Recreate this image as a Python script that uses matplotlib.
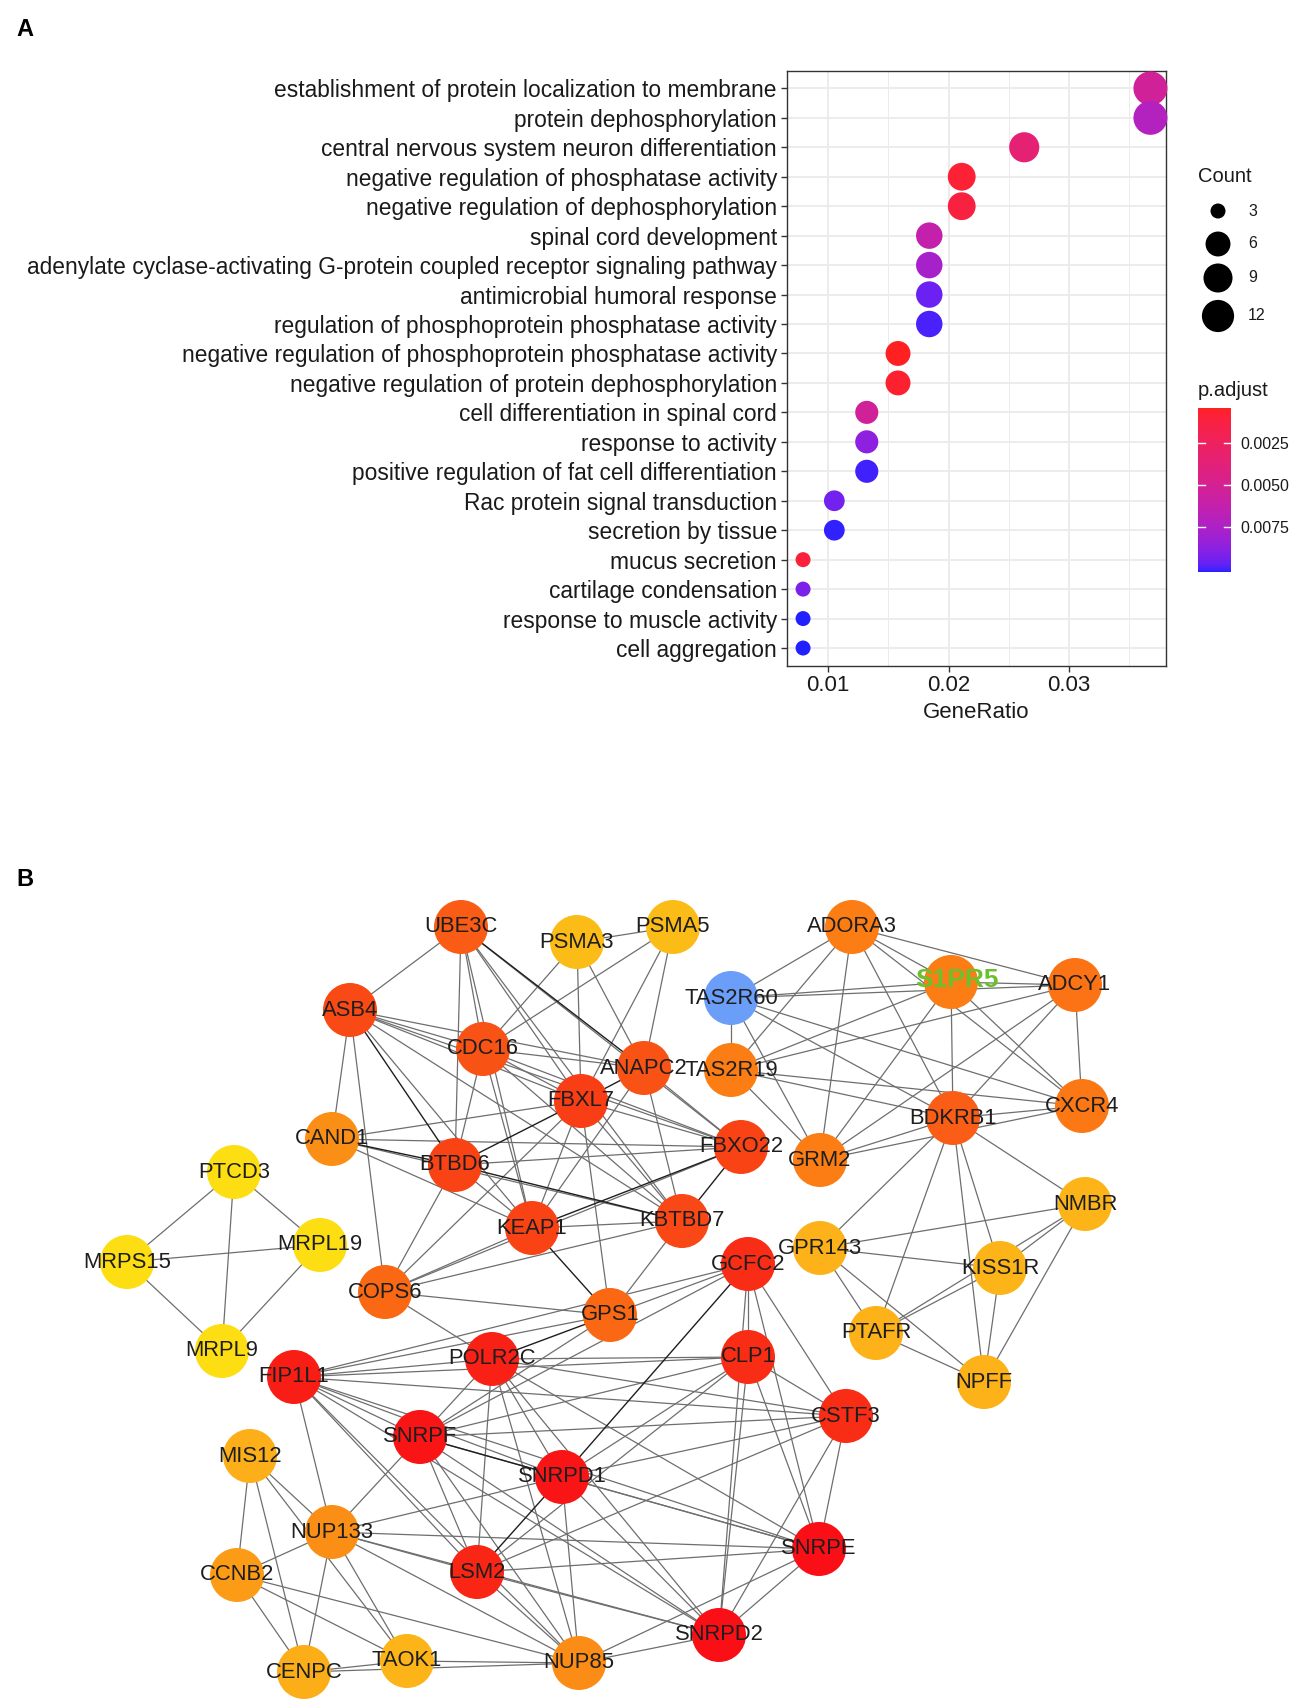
import numpy as np
import matplotlib
matplotlib.use("Agg")
import matplotlib.pyplot as plt
from matplotlib.colors import ListedColormap, LinearSegmentedColormap, Normalize
from matplotlib.collections import LineCollection
import matplotlib.colorbar as mcolorbar

plt.rcParams['font.family'] = ['Liberation Sans', 'DejaVu Sans']

# ---------------- Panel A data ----------------
terms = [
    "establishment of protein localization to membrane",
    "protein dephosphorylation",
    "central nervous system neuron differentiation",
    "negative regulation of phosphatase activity",
    "negative regulation of dephosphorylation",
    "spinal cord development",
    "adenylate cyclase-activating G-protein coupled receptor signaling pathway",
    "antimicrobial humoral response",
    "regulation of phosphoprotein phosphatase activity",
    "negative regulation of phosphoprotein phosphatase activity",
    "negative regulation of protein dephosphorylation",
    "cell differentiation in spinal cord",
    "response to activity",
    "positive regulation of fat cell differentiation",
    "Rac protein signal transduction",
    "secretion by tissue",
    "mucus secretion",
    "cartilage condensation",
    "response to muscle activity",
    "cell aggregation",
]
counts = [14, 14, 10, 8, 8, 7, 7, 7, 7, 6, 6, 5, 5, 5, 4, 4, 3, 3, 3, 3]
gene_ratio = [0.0368, 0.0368, 0.0263, 0.0211, 0.0211, 0.0184, 0.0184, 0.0184, 0.0184,
              0.0158, 0.0158, 0.0132, 0.0132, 0.0132, 0.0105, 0.0105,
              0.0079, 0.0079, 0.0079, 0.0079]
p_adjust = [0.00531, 0.00717, 0.00355, 0.00081, 0.00120, 0.00629, 0.00776, 0.00956,
            0.01000, 0.00042, 0.00071, 0.00531, 0.00873, 0.01005, 0.00942, 0.01015,
            0.00101, 0.00922, 0.01020, 0.01020]
legend_counts = [3, 6, 9, 12]
cbar_ticks = [0.0025, 0.0050, 0.0075]
x_ticks = [0.01, 0.02, 0.03]

# ---------------- Panel B data ----------------
nodes = ["UBE3C", "PSMA3", "PSMA5", "ADORA3", "TAS2R60", "S1PR5", "ADCY1", "ASB4", "CDC16",
         "ANAPC2", "TAS2R19", "FBXL7", "CXCR4", "BDKRB1", "CAND1", "FBXO22", "GRM2", "PTCD3",
         "BTBD6", "NMBR", "KBTBD7", "KEAP1", "MRPL19", "GPR143", "MRPS15", "GCFC2", "KISS1R",
         "COPS6", "GPS1", "PTAFR", "MRPL9", "FIP1L1", "POLR2C", "CLP1", "NPFF", "CSTF3",
         "SNRPF", "MIS12", "SNRPD1", "NUP133", "SNRPE", "CCNB2", "LSM2", "SNRPD2", "CENPC",
         "TAOK1", "NUP85"]
node_x = [461, 577, 673, 852, 731, 951, 1075, 350, 483, 644, 731, 581, 1082, 953, 332, 741,
          820, 234, 455, 1085, 682, 532, 320, 820, 127, 748, 1000, 385, 610, 876, 222, 294,
          492, 748, 984, 846, 420, 250, 562, 332, 819, 237, 477, 719, 304, 407, 579]
node_y = [927, 942, 927, 927, 998, 982, 985, 1010, 1049, 1068, 1070, 1101, 1106, 1118, 1139,
          1147, 1160, 1172, 1165, 1204, 1221, 1228, 1245, 1248, 1262, 1264, 1268, 1292, 1315,
          1333, 1351, 1377, 1359, 1357, 1382, 1416, 1437, 1456, 1477, 1532, 1549, 1575, 1572,
          1635, 1672, 1661, 1663]
node_score = [0.66, 0.20, 0.20, 0.50, np.nan, 0.50, 0.55, 0.74, 0.70, 0.70, 0.50, 0.80, 0.52,
              0.65, 0.42, 0.77, 0.50, 0.0, 0.77, 0.25, 0.75, 0.77, 0.0, 0.26, 0.0, 0.87, 0.25,
              0.60, 0.60, 0.26, 0.0, 0.93, 0.92, 0.87, 0.26, 0.87, 0.97, 0.27, 0.97, 0.42, 1.0,
              0.36, 0.90, 1.0, 0.28, 0.25, 0.43]
highlight_node = "S1PR5"

edges = [
    ("PTCD3", "MRPS15"), ("PTCD3", "MRPL19"), ("PTCD3", "MRPL9"), ("MRPS15", "MRPL19"),
    ("MRPS15", "MRPL9"), ("MRPL19", "MRPL9"),
    ("ADORA3", "TAS2R60"), ("ADORA3", "TAS2R19"), ("ADORA3", "GRM2"), ("ADORA3", "BDKRB1"),
    ("ADORA3", "S1PR5"), ("ADORA3", "ADCY1"), ("ADORA3", "CXCR4"),
    ("TAS2R60", "S1PR5"), ("TAS2R60", "ADCY1"), ("TAS2R60", "TAS2R19"), ("TAS2R60", "BDKRB1"),
    ("TAS2R60", "CXCR4"), ("TAS2R60", "GRM2"),
    ("TAS2R19", "S1PR5"), ("TAS2R19", "ADCY1"), ("TAS2R19", "CXCR4"), ("TAS2R19", "BDKRB1"),
    ("TAS2R19", "GRM2"),
    ("S1PR5", "ADCY1"), ("S1PR5", "GRM2"), ("S1PR5", "BDKRB1"), ("S1PR5", "CXCR4"),
    ("ADCY1", "CXCR4"), ("ADCY1", "BDKRB1"), ("ADCY1", "GRM2"),
    ("CXCR4", "BDKRB1"), ("CXCR4", "GRM2"),
    ("BDKRB1", "GRM2"), ("BDKRB1", "NMBR"), ("BDKRB1", "GPR143"), ("BDKRB1", "KISS1R"),
    ("BDKRB1", "PTAFR"), ("BDKRB1", "NPFF"),
    ("NMBR", "GPR143"), ("NMBR", "KISS1R"), ("NMBR", "PTAFR"), ("NMBR", "NPFF"),
    ("GPR143", "KISS1R"), ("GPR143", "PTAFR"), ("GPR143", "NPFF"),
    ("KISS1R", "PTAFR"), ("KISS1R", "NPFF"), ("PTAFR", "NPFF"),
    ("UBE3C", "ASB4"), ("UBE3C", "CDC16"), ("UBE3C", "BTBD6"), ("UBE3C", "FBXL7"),
    ("UBE3C", "KEAP1"), ("UBE3C", "KBTBD7"), ("UBE3C", "FBXO22"),
    ("PSMA3", "PSMA5"), ("PSMA3", "CDC16"), ("PSMA3", "FBXL7"), ("PSMA3", "ANAPC2"),
    ("PSMA5", "CDC16"), ("PSMA5", "ANAPC2"), ("PSMA5", "FBXL7"),
    ("ASB4", "CDC16"), ("ASB4", "ANAPC2"), ("ASB4", "FBXL7"), ("ASB4", "FBXO22"),
    ("ASB4", "KBTBD7"), ("ASB4", "KEAP1"), ("ASB4", "CAND1"), ("ASB4", "COPS6"),
    ("CDC16", "ANAPC2"), ("CDC16", "FBXL7"), ("CDC16", "BTBD6"), ("CDC16", "KEAP1"),
    ("CDC16", "FBXO22"), ("CDC16", "KBTBD7"),
    ("ANAPC2", "FBXO22"), ("ANAPC2", "KBTBD7"), ("ANAPC2", "KEAP1"),
    ("FBXL7", "CAND1"), ("FBXL7", "KEAP1"), ("FBXL7", "FBXO22"), ("FBXL7", "KBTBD7"),
    ("FBXL7", "GPS1"), ("FBXL7", "COPS6"),
    ("CAND1", "FBXO22"), ("CAND1", "KEAP1"), ("CAND1", "KBTBD7"),
    ("BTBD6", "KEAP1"), ("BTBD6", "FBXO22"), ("BTBD6", "COPS6"),
    ("KEAP1", "KBTBD7"), ("KEAP1", "COPS6"),
    ("KBTBD7", "GPS1"), ("KBTBD7", "COPS6"),
    ("COPS6", "GPS1"), ("COPS6", "FBXO22"), ("COPS6", "POLR2C"),
    ("GPS1", "GCFC2"), ("GPS1", "FIP1L1"), ("GPS1", "SNRPF"),
    ("GCFC2", "CLP1"), ("GCFC2", "CSTF3"), ("GCFC2", "FIP1L1"), ("GCFC2", "SNRPE"),
    ("GCFC2", "SNRPD2"), ("GCFC2", "SNRPF"),
    ("FIP1L1", "POLR2C"), ("FIP1L1", "CLP1"), ("FIP1L1", "CSTF3"), ("FIP1L1", "SNRPF"),
    ("FIP1L1", "SNRPD1"), ("FIP1L1", "SNRPE"), ("FIP1L1", "LSM2"), ("FIP1L1", "SNRPD2"),
    ("FIP1L1", "NUP133"), ("FIP1L1", "NUP85"),
    ("POLR2C", "CLP1"), ("POLR2C", "CSTF3"), ("POLR2C", "SNRPF"), ("POLR2C", "SNRPD1"),
    ("POLR2C", "LSM2"), ("POLR2C", "SNRPE"), ("POLR2C", "SNRPD2"), ("POLR2C", "NUP85"),
    ("CLP1", "CSTF3"), ("CLP1", "SNRPF"), ("CLP1", "SNRPD1"), ("CLP1", "LSM2"),
    ("CLP1", "SNRPE"), ("CLP1", "SNRPD2"),
    ("CSTF3", "SNRPF"), ("CSTF3", "SNRPD1"), ("CSTF3", "LSM2"), ("CSTF3", "SNRPE"),
    ("CSTF3", "SNRPD2"),
    ("SNRPF", "LSM2"), ("SNRPF", "SNRPE"), ("SNRPF", "SNRPD2"), ("SNRPF", "NUP133"),
    ("SNRPF", "NUP85"),
    ("SNRPD1", "SNRPE"), ("SNRPD1", "SNRPD2"), ("SNRPD1", "NUP85"), ("SNRPD1", "NUP133"),
    ("LSM2", "SNRPE"), ("LSM2", "SNRPD2"), ("LSM2", "NUP85"), ("LSM2", "NUP133"),
    ("SNRPE", "SNRPD2"), ("SNRPE", "NUP133"), ("SNRPE", "NUP85"),
    ("SNRPD2", "NUP85"), ("SNRPD2", "NUP133"),
    ("MIS12", "NUP133"), ("MIS12", "CCNB2"), ("MIS12", "CENPC"), ("MIS12", "TAOK1"),
    ("NUP133", "CCNB2"), ("NUP133", "CENPC"), ("NUP133", "TAOK1"), ("NUP133", "NUP85"),
    ("CCNB2", "CENPC"), ("CCNB2", "TAOK1"), ("CCNB2", "NUP85"),
    ("CENPC", "TAOK1"), ("CENPC", "NUP85"), ("TAOK1", "NUP85"),
]
strong_edges = [
    ("UBE3C", "ANAPC2"), ("ASB4", "BTBD6"), ("ANAPC2", "FBXL7"), ("FBXL7", "BTBD6"),
    ("CAND1", "BTBD6"), ("BTBD6", "KBTBD7"), ("KEAP1", "FBXO22"), ("KEAP1", "GPS1"),
    ("KBTBD7", "FBXO22"), ("GPS1", "POLR2C"), ("GCFC2", "SNRPD1"), ("SNRPF", "SNRPD1"),
    ("SNRPD1", "LSM2"),
]

# ---------------- helpers ----------------
W, H = 1299, 1707
DPI = 100

_M = np.array([[0.4124564, 0.3575761, 0.1804375],
               [0.2126729, 0.7151522, 0.0721750],
               [0.0193339, 0.1191920, 0.9503041]])
_WP = np.array([0.95047, 1.0, 1.08883])


def srgb_to_lab(c):
    c = np.asarray(c, float)
    lin = np.where(c <= 0.04045, c / 12.92, ((c + 0.055) / 1.055) ** 2.4)
    xyz = _M @ lin / _WP
    d = 6 / 29
    f = np.where(xyz > d ** 3, np.cbrt(xyz), xyz / (3 * d * d) + 4 / 29)
    return np.array([116 * f[1] - 16, 500 * (f[0] - f[1]), 200 * (f[1] - f[2])])


def lab_to_srgb(lab):
    L, a, b = lab
    fy = (L + 16) / 116
    fx = fy + a / 500
    fz = fy - b / 200
    d = 6 / 29

    def finv(t):
        return np.where(t > d, t ** 3, 3 * d * d * (t - 4 / 29))
    xyz = np.array([finv(fx), finv(fy), finv(fz)]) * _WP
    lin = np.clip(np.linalg.inv(_M) @ xyz, 0, 1)
    c = np.where(lin <= 0.0031308, 12.92 * lin, 1.055 * lin ** (1 / 2.4) - 0.055)
    return np.clip(c, 0, 1)


lab_r = srgb_to_lab([1, 0, 0])
lab_b = srgb_to_lab([0, 0, 1])
grad = [0.13 + 0.87 * lab_to_srgb(lab_r + t * (lab_b - lab_r)) for t in np.linspace(0, 1, 256)]
padj_cmap = ListedColormap(grad)


def dot_px(c, cmin=3, cmax=14):
    return 15 + 19 * np.sqrt((np.asarray(c, float) - cmin) / (cmax - cmin))


def size_pt2(c):
    return (dot_px(c) * 72 / DPI) ** 2


fig = plt.figure(figsize=(W / DPI, H / DPI), dpi=DPI)
fig.patch.set_facecolor('white')

# overlay axes in pixel coordinates (legend, panel labels, network)
ov = fig.add_axes([0, 0, 1, 1], zorder=0)
ov.set_xlim(0, W)
ov.set_ylim(H, 0)
ov.axis('off')

# ---------------- Panel A ----------------
ax = fig.add_axes([786.7 / W, 1 - 665.7 / H, (1165.7 - 786.7) / W, (665.7 - 70.7) / H], zorder=2)
n = len(terms)
ypos = np.arange(n, 0, -1)
pmin, pmax = min(p_adjust), max(p_adjust)
ax.scatter(gene_ratio, ypos, s=size_pt2(counts), c=p_adjust, cmap=padj_cmap,
           vmin=pmin, vmax=pmax, edgecolors='none', zorder=3, clip_on=False)
ax.set_xlim(0.006539, 0.03807)
ax.set_ylim(0.4, n + 0.6)
ax.set_yticks(ypos)
ax.set_yticklabels(terms, fontsize=16.4, color='#1A1A1A')
ax.set_xticks(x_ticks)
ax.set_xticklabels([f"{v:.2f}" for v in x_ticks], fontsize=16, color='#1A1A1A')
ax.set_xticks([0.015, 0.025, 0.035], minor=True)
ax.grid(True, which='major', color='#EBEBEB', lw=1.3, zorder=0)
ax.grid(True, which='minor', axis='x', color='#EBEBEB', lw=0.7, zorder=0)
ax.set_axisbelow(True)
for sp in ax.spines.values():
    sp.set_color('#333333')
    sp.set_linewidth(1.0)
ax.tick_params(axis='both', which='major', length=4, width=1, color='#333333', pad=3)
ax.tick_params(axis='x', which='minor', length=0)
ax.set_xlabel("GeneRatio", fontsize=16, color='#1A1A1A', labelpad=4)

# Count legend
ov.text(1198, 176, "Count", fontsize=14.5, ha='left', va='center', color='#1A1A1A')
leg_y = [211, 244, 278, 316]
ov.scatter([1218] * len(legend_counts), leg_y, s=size_pt2(legend_counts), c='black',
           edgecolors='none')
for cval, yy in zip(legend_counts, leg_y):
    ov.text(1248, yy, str(cval), fontsize=11.5, ha='left', va='center', color='#1A1A1A')

# p.adjust colorbar
ov.text(1198, 390, "p.adjust", fontsize=14.5, ha='left', va='center', color='#1A1A1A')
cax = fig.add_axes([1198 / W, 1 - 572 / H, 33 / W, 164 / H], zorder=2)
cb = mcolorbar.ColorbarBase(cax, cmap=padj_cmap, norm=Normalize(pmin, pmax),
                            orientation='vertical')
cb.outline.set_visible(False)
cax.invert_yaxis()
cb.set_ticks(cbar_ticks)
cb.set_ticklabels([f"{v:.4f}" for v in cbar_ticks])
cax.tick_params(length=0, pad=7, labelsize=11.5, labelcolor='#1A1A1A')
for v in cbar_ticks:
    cax.plot([0, 0.2], [v, v], color='white', lw=1.0, transform=cax.get_yaxis_transform())
    cax.plot([0.8, 1.0], [v, v], color='white', lw=1.0, transform=cax.get_yaxis_transform())

# panel labels
ov.text(25, 30, "A", fontsize=17, fontweight='bold', ha='center', va='center', color='black')
ov.text(25, 880, "B", fontsize=17, fontweight='bold', ha='center', va='center', color='black')

# ---------------- Panel B ----------------
pos = {nm: (x, y) for nm, x, y in zip(nodes, node_x, node_y)}
strong_set = set(frozenset(e) for e in strong_edges)
weak_segs = [[pos[a], pos[b]] for a, b in edges if frozenset((a, b)) not in strong_set]
strong_segs = [[pos[a], pos[b]] for a, b in strong_edges]
ov.add_collection(LineCollection(weak_segs, colors='#6E6E6E', linewidths=0.9, zorder=1))
ov.add_collection(LineCollection(strong_segs, colors='#1E1E1E', linewidths=1.0, zorder=1))

node_cmap = LinearSegmentedColormap.from_list(
    'deg', [(0.0, '#FDDE12'), (0.25, '#FCB418'), (0.5, '#FB7D14'),
            (0.75, '#F94815'), (1.0, '#F90F15')])
node_cmap.set_bad('#6A9EF8')
node_d = 54
ov.scatter(node_x, node_y, s=(node_d * 72 / DPI) ** 2, c=np.array(node_score, float),
           cmap=node_cmap, vmin=0, vmax=1, edgecolors='none', zorder=2, plotnonfinite=True)
for nm, x, y in zip(nodes, node_x, node_y):
    if nm == highlight_node:
        ov.text(x + 6, y - 2, nm, fontsize=19, fontweight='bold', color='#6CBF2E',
                ha='center', va='center', zorder=3)
    else:
        ov.text(x, y, nm, fontsize=15.8, color='#1E1E1E', ha='center', va='center', zorder=3)

fig.savefig("out.png", dpi=DPI)
